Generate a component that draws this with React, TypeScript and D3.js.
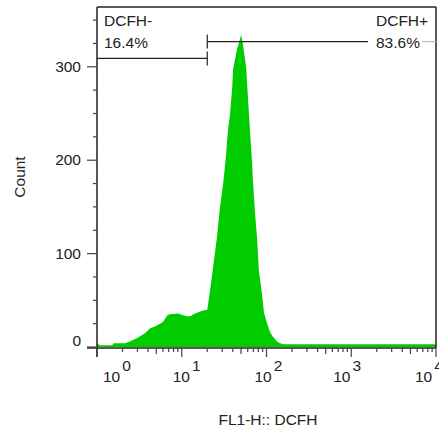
import React from "react";
import * as d3 from "d3";

const fl1Values = [1.0, 1.08, 1.51, 1.58, 2.14, 2.45, 3.02, 3.72, 4.22, 4.84, 5.56, 6.03, 6.76, 7.24, 9.02, 10.4, 11.5, 12.6, 14.3, 17.8, 20.0, 21.6, 23.4, 26.0, 28.2, 30.9, 33.1, 35.1, 37.2, 39.4, 40.3, 44.7, 50.1, 52.5, 57.5, 60.3, 63.8, 67.6, 69.2, 73.3, 77.6, 81.3, 88.1, 93.3, 101, 110, 119, 136, 157, 10000];
const counts = [4, 2, 2, 4, 4, 6, 10, 15, 20, 22, 25, 27, 34, 35, 36, 34, 33, 33, 36, 39, 40, 61, 85, 117, 149, 176, 203, 232, 250, 278, 297, 318, 334, 325, 300, 268, 232, 197, 178, 143, 115, 82, 58, 37, 26, 16, 11, 5, 3, 3];

const yTicks = [0, 100, 200, 300];
const yMinorTicks = [25, 50, 75, 125, 150, 175, 225, 250, 275, 325, 350];
const xDecades = [0, 1, 2, 3, 4];

const gateNeg = { name: "DCFH-", pct: "16.4%", from: 1, to: 20.0, level: 309 };
const gatePos = { name: "DCFH+", pct: "83.6%", from: 20.0, to: 10000, level: 327 };

const xTitle = "FL1-H:: DCFH";
const yTitle = "Count";

export default function App() {
  const W = 439, H = 431;
  const left = 97, right = 436, top = 7, bottom = 347;
  const x = d3.scaleLog().domain([1, 10000]).range([left, right]);
  const y = d3.scaleLinear().domain([0, 300]).range([bottom, 66.8]);

  const data = fl1Values.map((v, i) => ({ v, c: counts[i] }));
  const area = d3.area<{ v: number; c: number }>()
    .x(d => x(d.v))
    .y0(y(0))
    .y1(d => y(d.c));

  const font = "'Liberation Sans', Arial, sans-serif";
  const fs = 15.5;
  const txt = "#222";

  // x ticks
  const xMinor: { v: number; len: number }[] = [];
  for (let dcd = 0; dcd < 4; dcd++) {
    for (let k = 2; k <= 9; k++) {
      xMinor.push({ v: k * Math.pow(10, dcd), len: k === 5 ? 6 : 4 });
    }
  }
  const labelOffsets = [6, -9, -12, -18, -21];

  return (
    <svg width={W} height={H} style={{ position: "absolute", left: 0, top: 0, background: "#fff" }} fontFamily={font}>
      <rect x={0} y={0} width={W} height={H} fill="#fff" />
      <path d={area(data) || ""} fill="#00cc00" />

      {/* frame */}
      <line x1={left} x2={right} y1={top} y2={top} stroke="#222" strokeWidth={1.5} />
      <line x1={right} x2={right} y1={top} y2={bottom + 1} stroke="#222" strokeWidth={1.5} />
      <line x1={left} x2={left} y1={top} y2={bottom + 10} stroke="#222" strokeWidth={1.5} />
      <line x1={left - 10} x2={right} y1={bottom + 1} y2={bottom + 1} stroke="#222" strokeWidth={1.5} />

      {/* y ticks */}
      {yTicks.map(t => (
        <g key={"y" + t}>
          <line x1={left - 10} x2={left} y1={y(t)} y2={y(t)} stroke="#444" strokeWidth={1.2} />
          <text x={81} y={t === 0 ? y(t) - 1 : y(t) + 5} textAnchor="end" fontSize={fs} fill={txt}>{t}</text>
        </g>
      ))}
      {yMinorTicks.map(t => (
        <line key={"ym" + t} x1={left - 4} x2={left} y1={y(t)} y2={y(t)} stroke="#444" strokeWidth={1.2} />
      ))}

      {/* x ticks */}
      {xDecades.map((d, i) => (
        <g key={"x" + d}>
          <line x1={x(Math.pow(10, d))} x2={x(Math.pow(10, d))} y1={bottom + 1} y2={bottom + 10} stroke="#444" strokeWidth={1.2} />
          <text x={x(Math.pow(10, d)) + labelOffsets[i]} y={382} fontSize={fs} fill={txt}>
            10<tspan dx={2} dy={-11}>{d}</tspan>
          </text>
        </g>
      ))}
      {xMinor.map((m, i) => (
        <line key={"xm" + i} x1={x(m.v)} x2={x(m.v)} y1={bottom + 1} y2={bottom + 1 + m.len} stroke="#444" strokeWidth={1.2} />
      ))}

      {/* gates */}
      <line x1={x(gateNeg.from)} x2={x(gateNeg.to)} y1={y(gateNeg.level)} y2={y(gateNeg.level)} stroke="#222" strokeWidth={1.2} />
      <line x1={x(gateNeg.to)} x2={x(gateNeg.to)} y1={y(gateNeg.level) - 7} y2={y(gateNeg.level) + 7} stroke="#222" strokeWidth={1.2} />
      <line x1={x(gatePos.from)} x2={368} y1={y(gatePos.level)} y2={y(gatePos.level)} stroke="#222" strokeWidth={1.2} />
      <line x1={422} x2={x(gatePos.to)} y1={y(gatePos.level)} y2={y(gatePos.level)} stroke="#bbb" strokeWidth={1.2} />
      <line x1={x(gatePos.from)} x2={x(gatePos.from)} y1={y(gatePos.level) - 7} y2={y(gatePos.level) + 7} stroke="#222" strokeWidth={1.2} />

      <text x={104} y={26} fontSize={fs} fill={txt}>{gateNeg.name}</text>
      <text x={104} y={48} fontSize={fs} fill={txt}>{gateNeg.pct}</text>
      <text x={376} y={26} fontSize={fs} fill={txt}>{gatePos.name}</text>
      <text x={376} y={48} fontSize={fs} fill={txt}>{gatePos.pct}</text>

      {/* titles */}
      <text x={268} y={425} textAnchor="middle" fontSize={fs} fill={txt}>{xTitle}</text>
      <text transform={`translate(25,177) rotate(-90)`} textAnchor="middle" fontSize={fs} fill={txt}>{yTitle}</text>
    </svg>
  );
}
